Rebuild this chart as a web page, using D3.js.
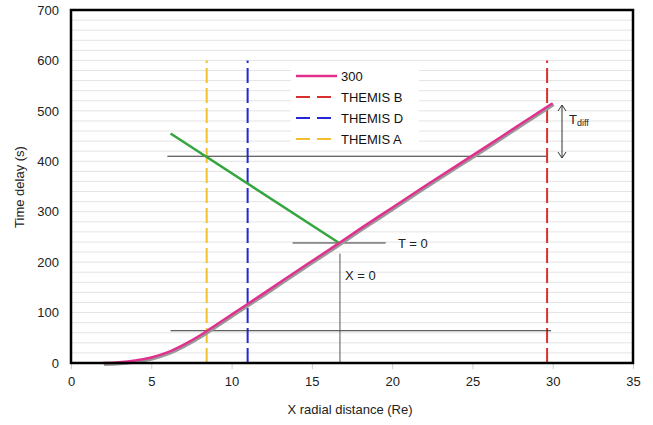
<!DOCTYPE html>
<html><head><meta charset="utf-8">
<script src="https://cdn.jsdelivr.net/npm/d3@7"></script>
<style>body{margin:0;background:#fff}svg{font-family:"Liberation Sans",Arial,sans-serif}</style>
</head><body><svg id="c" width="653" height="425"></svg>
<script>
// Data
const xTicks = [0,5,10,15,20,25,30,35];
const yTicks = [0,100,200,300,400,500,600,700];
const curveX = [2,3,4,5,6,7,8,9,10,11,12,14,16,16.7,18,20,22,24,26,28,29.7,30];
const curveY = [0,1.5,5,11,21,36,54,75,96,117,138,181,223,238,266,308,350,391,432,474,509,515];
const greenX = [6.2,16.7];
const greenY = [455,238];
const satellites = ["THEMIS B","THEMIS D","THEMIS A"];
const satX = [29.65,11.0,8.45];
const satColor = ["#d8302e","#2626d4","#f0c030"];
const hLines = [{x1:6.0,x2:29.6,y:410},{x1:6.2,x2:29.9,y:64},{x1:13.8,x2:19.6,y:238}];

const svg = d3.select("#c");
const m = {l:71,r:633,t:10,b:363};
const x = d3.scaleLinear().domain([0,35]).range([m.l,m.r]);
const y = d3.scaleLinear().domain([0,700]).range([m.b,m.t]);

// minor grid every 20
const grid = d3.range(0,701,20);
svg.append("g").selectAll("line").data(grid).join("line")
  .attr("x1",m.l).attr("x2",m.r).attr("y1",d=>y(d)).attr("y2",d=>y(d))
  .attr("stroke","#e4e4e4").attr("stroke-width",1);

// legend background
svg.append("rect").attr("x",291).attr("y",62).attr("width",128).attr("height",88).attr("fill","#fff");

// axes
const xAxis = d3.axisBottom(x).tickValues(xTicks).tickSize(6).tickPadding(8);
const gx = svg.append("g").attr("transform",`translate(0,${m.b})`).call(xAxis);
gx.select(".domain").remove();
gx.selectAll("line").attr("stroke","#ccc");
gx.selectAll("text").attr("font-size",13).attr("fill","#222").attr("font-family","Liberation Sans, Arial, sans-serif");
const yAxis = d3.axisLeft(y).tickValues(yTicks).tickSize(0).tickPadding(12);
const gy = svg.append("g").attr("transform",`translate(${m.l},0)`).call(yAxis);
gy.select(".domain").remove();
gy.selectAll("text").attr("font-size",13).attr("fill","#222").attr("font-family","Liberation Sans, Arial, sans-serif");

// dashed verticals
svg.append("g").selectAll("line").data(satX).join("line")
  .attr("x1",d=>x(d)).attr("x2",d=>x(d)).attr("y1",y(0)).attr("y2",y(600))
  .attr("stroke",(d,i)=>satColor[i]).attr("stroke-width",2).attr("stroke-dasharray","15,5");

// horizontal reference lines
svg.append("g").selectAll("line").data(hLines).join("line")
  .attr("x1",d=>x(d.x1)).attr("x2",d=>x(d.x2)).attr("y1",d=>y(d.y)).attr("y2",d=>y(d.y))
  .attr("stroke","#333").attr("stroke-width",1);
// X = 0 vertical
svg.append("line").attr("x1",x(16.75)).attr("x2",x(16.75)).attr("y1",y(217)).attr("y2",y(0))
  .attr("stroke","#555").attr("stroke-width",1);

// green line
const gl = d3.line().x(d=>x(d[0])).y(d=>y(d[1]));
svg.append("path").datum(greenX.map((v,i)=>[v,greenY[i]])).attr("d",gl)
  .attr("fill","none").attr("stroke","#35a540").attr("stroke-width",2.5);

// main curve with shadow
const pts = curveX.map((v,i)=>[v,curveY[i]]);
const cl = d3.line().x(d=>x(d[0])).y(d=>y(d[1])).curve(d3.curveCatmullRom.alpha(0.5));
svg.append("path").datum(pts).attr("d",cl).attr("transform","translate(1,1.5)")
  .attr("fill","none").attr("stroke","#999").attr("stroke-width",3);
svg.append("path").datum(pts).attr("d",cl)
  .attr("fill","none").attr("stroke","#e2308e").attr("stroke-width",2.5);

// frame
svg.append("rect").attr("x",m.l).attr("y",m.t).attr("width",m.r-m.l).attr("height",m.b-m.t)
  .attr("fill","none").attr("stroke","#000").attr("stroke-width",2.5);

// legend
const leg = svg.append("g");
const items = [{n:"300",c:"#e2308e",dash:null}].concat(satellites.map((s,i)=>({n:s,c:satColor[i],dash:"14,7"})));
items.forEach((it,i)=>{
  const yy = 76 + i*21;
  leg.append("line").attr("x1",296).attr("x2",337).attr("y1",yy).attr("y2",yy)
    .attr("stroke",it.c).attr("stroke-width",it.dash?2:2.5).attr("stroke-dasharray",it.dash);
  leg.append("text").attr("x",341).attr("y",yy+5).attr("font-size",13).attr("fill","#111").text(it.n);
});

// annotations
svg.append("text").attr("x",398).attr("y",248).attr("font-size",13).attr("fill","#222").text("T = 0");
svg.append("text").attr("x",345).attr("y",280).attr("font-size",13).attr("fill","#222").text("X = 0");

// Tdiff arrow
const ax = 562, ay1 = 105, ay2 = 158;
svg.append("line").attr("x1",ax).attr("x2",ax).attr("y1",ay1).attr("y2",ay2).attr("stroke","#333").attr("stroke-width",1);
svg.append("path").attr("d",`M${ax-4},${ay1+6}L${ax},${ay1}L${ax+4},${ay1+6}M${ax-4},${ay2-6}L${ax},${ay2}L${ax+4},${ay2-6}`)
  .attr("fill","none").attr("stroke","#333").attr("stroke-width",1);
const td = svg.append("text").attr("x",569).attr("y",124).attr("font-size",13).attr("fill","#222");
td.append("tspan").text("T");
td.append("tspan").attr("font-size",9).attr("dy",2).text("diff");

// axis titles
svg.append("text").attr("x",350).attr("y",414).attr("text-anchor","middle").attr("font-size",13).attr("fill","#222").text("X radial distance (Re)");
svg.append("text").attr("transform","translate(24,187) rotate(-90)").attr("text-anchor","middle").attr("font-size",13).attr("fill","#222").text("Time delay (s)");
</script></body></html>
